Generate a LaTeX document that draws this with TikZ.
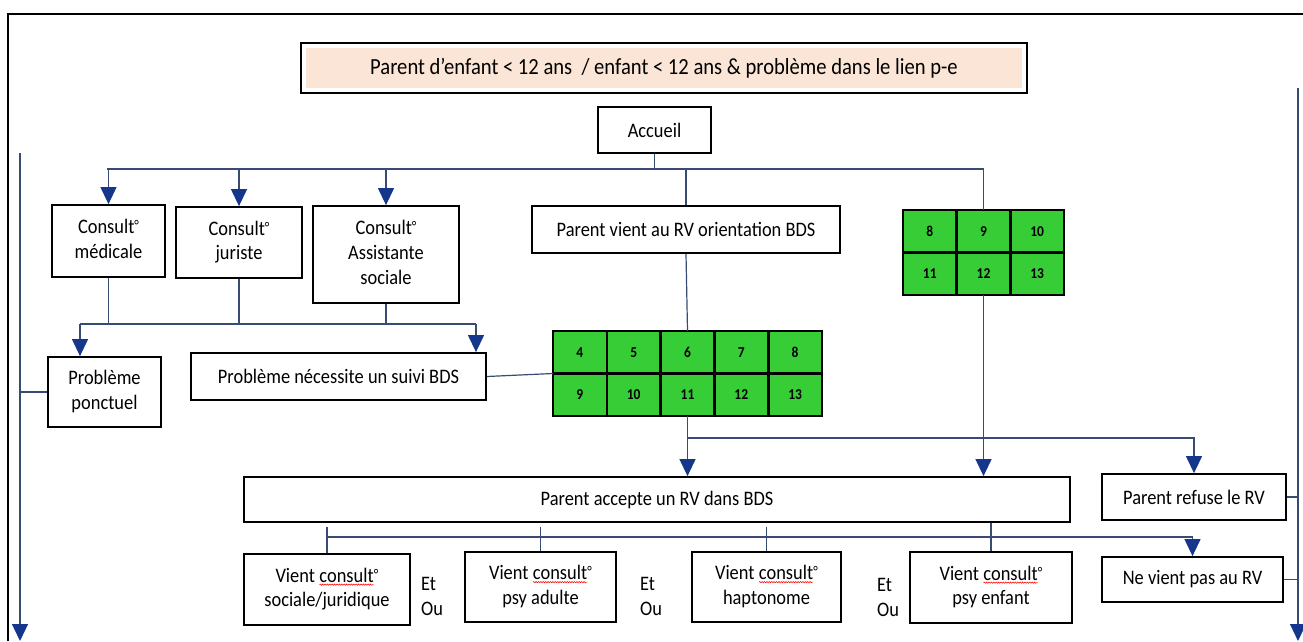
\documentclass[tikz,border=0pt]{standalone}
\usepackage{fontspec}
\setmainfont{Carlito}
\usetikzlibrary{arrows.meta,decorations.pathmorphing}
\definecolor{peach}{RGB}{251,229,214}
\definecolor{lnc}{RGB}{55,75,115}
\definecolor{arc}{RGB}{20,55,140}
\definecolor{grn}{RGB}{55,205,55}
\newcommand{\redwave}[1]{\tikz[baseline=(wv.base),x=1pt,y=1pt]{\node[shape=rectangle,draw=none,fill=none,inner sep=0pt,outer sep=0pt,minimum width=0pt,minimum height=0pt] (wv) {#1};
  \draw[red,line width=0.5pt,decorate,decoration={snake,amplitude=0.6pt,segment length=2.4pt}] ([yshift=-2.2pt]wv.south west) -- ([yshift=-2.2pt]wv.south east);}}
\newcommand{\dg}{\raisebox{0.3ex}{\scalebox{0.72}{°}}}
\newcommand{\vt}[1]{\scalebox{1}[1.12]{#1}}
\newcommand{\ml}[1]{\vt{\begin{tabular}{@{}c@{}}#1\end{tabular}}}
\newcommand{\mll}[1]{\vt{\begin{tabular}{@{}l@{}}#1\end{tabular}}}
\begin{document}
\begin{tikzpicture}[x=1pt,y=-1pt,
 box/.style={draw=black,line width=1.8pt,fill=white,inner sep=0pt,font=\fontsize{18.4}{22.3}\selectfont},
 plain/.style={inner sep=0pt,font=\fontsize{18.4}{22.3}\selectfont},
 cell/.style={draw=black,line width=2.6pt,fill=grn,minimum width=53.8pt,minimum height=42.5pt,inner sep=0pt,font=\fontsize{13.5}{15}\selectfont\bfseries},
 grp/.style={inner sep=0pt,outer sep=0pt},
 conn/.style={draw=lnc,line width=1.2pt},
 arr/.style={conn,-{Triangle[width=16pt,length=17pt,color=arc]}},
]
\useasboundingbox (0,0) rectangle (1303,641);
% outer frame
\draw[line width=2pt] (8,641) -- (8,14) -- (1303,14);

% title
\node[box,minimum width=726pt,minimum height=50pt,font=\fontsize{20.6}{24}\selectfont,
  path picture={\fill[peach] ([shift={(5pt,-5pt)}]path picture bounding box.north west) rectangle ([shift={(-5pt,5pt)}]path picture bounding box.south east);}]
  (title) at (664,68) {\vt{Parent d’enfant < 12 ans~ / enfant < 12 ans \& problème dans le lien p-e}};
\node[box,minimum width=113pt,minimum height=46pt] (acc) at (654.5,130) {\vt{Accueil}};

% consult row
\node[box,minimum width=113pt,minimum height=72pt] (med) at (108.5,241) {\ml{Consult\dg\\médicale}};
\node[box,minimum width=126pt,minimum height=71pt] (jur) at (239,242.5) {\ml{Consult\dg\\juriste}};
\node[box,minimum width=146pt,minimum height=97pt] (ass) at (386,254.5) {\ml{Consult\dg\\Assistante\\sociale}};
\node[box,minimum width=308pt,minimum height=47pt] (pvrv) at (686,229.5) {\vt{Parent vient au RV orientation BDS}};

% grid 1
\node[grp,minimum width=161pt,minimum height=85pt] (g1) at (983.5,252.5) {};
\node[cell] (g1a) at (929.8,231.25) {\vt{8}};
\node[cell] (g1b) at (983.5,231.25) {\vt{9}};
\node[cell] (g1c) at (1037.2,231.25) {\vt{10}};
\node[cell] (g1d) at (929.8,273.75) {\vt{11}};
\node[cell] (g1e) at (983.5,273.75) {\vt{12}};
\node[cell] (g1f) at (1037.2,273.75) {\vt{13}};

% grid 2
\node[grp,minimum width=269pt,minimum height=85pt] (g2) at (687.5,373.5) {};
\node[cell] (g2a) at (579.9,352.25) {\vt{4}};
\node[cell] (g2b) at (633.7,352.25) {\vt{5}};
\node[cell] (g2c) at (687.5,352.25) {\vt{6}};
\node[cell] (g2d) at (741.3,352.25) {\vt{7}};
\node[cell] (g2e) at (795.1,352.25) {\vt{8}};
\node[cell] (g2f) at (579.9,394.75) {\vt{9}};
\node[cell] (g2g) at (633.7,394.75) {\vt{10}};
\node[cell] (g2h) at (687.5,394.75) {\vt{11}};
\node[cell] (g2i) at (741.3,394.75) {\vt{12}};
\node[cell] (g2j) at (795.1,394.75) {\vt{13}};

% problems
\node[box,minimum width=113pt,minimum height=70pt] (ponct) at (104.5,392) {\ml{Problème\\ponctuel}};
\node[box,minimum width=295pt,minimum height=47pt] (necess) at (338.5,376.5) {\vt{Problème nécessite un suivi BDS}};

% accept / refuse
\node[box,minimum width=826pt,minimum height=45pt] (accepte) at (657,499.5) {\vt{Parent accepte un RV dans BDS}};
\node[box,minimum width=184pt,minimum height=46pt] (refuse) at (1194,497) {\vt{Parent refuse le RV}};
\node[box,minimum width=181pt,minimum height=45pt] (nevient) at (1192.5,579.5) {\vt{Ne vient pas au RV}};

% bottom row
\node[box,minimum width=166pt,minimum height=71pt] (soc) at (327,589.5) {\ml{Vient \redwave{consult}\dg\\sociale/juridique}};
\node[box,minimum width=151pt,minimum height=70pt] (psyad) at (540.5,587) {\ml{Vient \redwave{consult}\dg\\psy adulte}};
\node[box,minimum width=149pt,minimum height=70pt] (hapt) at (766.5,587) {\ml{Vient \redwave{consult}\dg\\haptonome}};
\node[box,minimum width=162pt,minimum height=71pt] (psyenf) at (991,587.5) {\ml{Vient \redwave{consult}\dg\\psy enfant}};
\node[plain] (eo1) at (432,598) {\mll{Et\\Ou}};
\node[plain] (eo2) at (651,598) {\mll{Et\\Ou}};
\node[plain] (eo3) at (888,599) {\mll{Et\\Ou}};

% connectors from Accueil
\draw[conn] (acc.south) -- (acc.south |- 0,169);
\draw[conn] (107,169) -- (984,169);
\draw[arr] (med.north |- 0,169) -- (med.north);
\draw[arr] (jur.north |- 0,169) -- (jur.north);
\draw[arr] (ass.north |- 0,169) -- (ass.north);
\draw[conn] (pvrv.north |- 0,169) -- (pvrv.north);
\draw[conn] (g1.north |- 0,169) -- (g1.north);

% consult to problems
\draw[conn] (med.south) -- (med.south |- 0,324);
\draw[conn] (jur.south) -- (jur.south |- 0,324);
\draw[conn] (ass.south) -- (ass.south |- 0,324);
\draw[conn] (80,324) -- (476,324);
\draw[arr] (80,324) -- (ponct.north -| 80,0);
\draw[arr] (476,324) -- (necess.north -| 476,0);
\draw[conn] (necess.east) -- (g2.west);
\draw[conn] (pvrv.south) -- (g2.north);

% grids to accept / refuse
\draw[arr] (g2.south) -- (accepte.north -| g2.south);
\draw[arr] (g2.south |- 0,438) -| (refuse.north);
\draw[arr] (g1.south) -- (accepte.north -| g1.south);

% accept to bottom row
\draw[conn] (soc.north |- 0,527) -- (soc.north);
\draw[conn] (psyad.north |- 0,527) -- (psyad.north);
\draw[conn] (hapt.north |- 0,527) -- (hapt.north);
\draw[conn] (accepte.south -| psyenf.north) -- (psyenf.north);
\draw[conn] (soc.north |- 0,537) -- (nevient.north |- 0,537);
\draw[arr] (nevient.north |- 0,537) -- (nevient.north);

% side arrows
\draw[arr] (20,153) -- (20,641);
\draw[conn] (ponct.west) -- (ponct.west -| 20,0);
\draw[arr] (1298,88) -- (1298,641);
\draw[conn] (refuse.east) -- (refuse.east -| 1298,0);
\draw[conn] (nevient.east) -- (nevient.east -| 1298,0);
\end{tikzpicture}
\end{document}
